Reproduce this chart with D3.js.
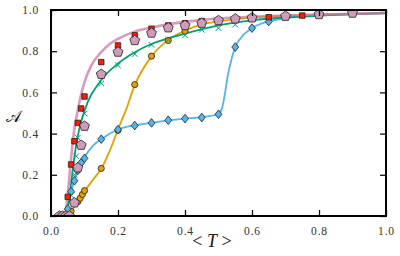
<!DOCTYPE html>
<html>
<head>
<meta charset="utf-8">
<script src="https://cdn.jsdelivr.net/npm/d3@7"></script>
<style>
  body { margin: 0; background: #fff; }
  svg text { font-family: "Liberation Serif", "DejaVu Serif", serif; }
</style>
</head>
<body>
<div id="viz"></div>
<script>
// tick values
let tickVals = [0, 0.2, 0.4, 0.6, 0.8, 1.0];

// red squares
let sqT = [0.05, 0.06, 0.07, 0.08, 0.09, 0.10, 0.15, 0.20, 0.25, 0.30, 0.35, 0.40, 0.45, 0.65, 0.75];
let sqA = [0.093, 0.25, 0.363, 0.452, 0.522, 0.58, 0.747, 0.828, 0.877, 0.909, 0.925, 0.936, 0.946, 0.965, 0.973];

// pink pentagons
let pentT = [0.025, 0.035, 0.045, 0.055, 0.07, 0.08, 0.09, 0.10, 0.15, 0.20, 0.25, 0.30, 0.35, 0.40, 0.45, 0.50, 0.55, 0.60, 0.70, 0.80, 0.90];
let pentA = [0.0, 0.0, 0.0, 0.0, 0.064, 0.234, 0.344, 0.436, 0.688, 0.796, 0.852, 0.888, 0.914, 0.925, 0.936, 0.949, 0.957, 0.962, 0.970, 0.978, 0.985];

// blue diamonds
let diaT = [0.05, 0.06, 0.07, 0.08, 0.09, 0.10, 0.15, 0.20, 0.25, 0.30, 0.35, 0.40, 0.45, 0.50, 0.55, 0.60, 0.65];
let diaA = [0.034, 0.118, 0.171, 0.221, 0.258, 0.28, 0.373, 0.42, 0.439, 0.452, 0.465, 0.473, 0.478, 0.494, 0.82, 0.912, 0.944];

// orange circles
let circT = [0.05, 0.06, 0.08, 0.087, 0.094, 0.10, 0.15, 0.20, 0.25, 0.30, 0.35, 0.40];
let circA = [0.0, 0.023, 0.069, 0.086, 0.105, 0.123, 0.231, 0.416, 0.638, 0.776, 0.852, 0.897];

// teal crosses
let crossT = [0.06, 0.07, 0.075, 0.08, 0.10, 0.15, 0.20, 0.25, 0.30, 0.35, 0.40, 0.45, 0.50, 0.55];
let crossA = [0.10, 0.20, 0.29, 0.38, 0.497, 0.644, 0.731, 0.786, 0.831, 0.856, 0.877, 0.904, 0.912, 0.929];

// curves
let pinkT = [0.043, 0.05, 0.06, 0.067, 0.075, 0.087, 0.10, 0.12, 0.15, 0.175, 0.20, 0.25, 0.30, 0.45, 0.60, 0.80, 1.0];
let pinkA = [0.0, 0.11, 0.28, 0.39, 0.47, 0.57, 0.65, 0.73, 0.795, 0.835, 0.86, 0.895, 0.915, 0.952, 0.967, 0.978, 0.985];

let tealT = [0.045, 0.05, 0.06, 0.07, 0.08, 0.10, 0.15, 0.20, 0.25, 0.30, 0.35, 0.40, 0.50, 0.60, 0.80, 1.0];
let tealA = [0.0, 0.045, 0.16, 0.29, 0.39, 0.51, 0.66, 0.74, 0.795, 0.835, 0.862, 0.885, 0.925, 0.95, 0.972, 0.985];

let orangeT = [0.055, 0.06, 0.07, 0.08, 0.10, 0.125, 0.15, 0.175, 0.20, 0.225, 0.25, 0.30, 0.35, 0.40, 0.45, 0.50, 0.60, 0.80, 1.0];
let orangeA = [0.0, 0.02, 0.045, 0.07, 0.12, 0.175, 0.23, 0.315, 0.42, 0.52, 0.635, 0.775, 0.855, 0.9, 0.93, 0.945, 0.963, 0.978, 0.985];

let blueT = [0.045, 0.05, 0.06, 0.07, 0.08, 0.10, 0.125, 0.15, 0.20, 0.25, 0.30, 0.35, 0.40, 0.45, 0.50, 0.51, 0.53, 0.55, 0.575, 0.60, 0.65, 0.70, 0.80, 1.0];
let blueA = [0.0, 0.035, 0.12, 0.175, 0.22, 0.285, 0.34, 0.373, 0.42, 0.44, 0.452, 0.464, 0.473, 0.48, 0.495, 0.52, 0.70, 0.82, 0.88, 0.912, 0.945, 0.96, 0.975, 0.985];

let margin = {top: 10, right: 14, bottom: 40, left: 51};
let W = 400, H = 256;
let width = W - margin.left - margin.right,
    height = H - margin.top - margin.bottom;

let svg = d3.select('#viz').append('svg')
    .attr('width', W)
    .attr('height', H);

let chart = svg.append('g')
    .attr('transform', 'translate(' + margin.left + ',' + margin.top + ')');

let x = d3.scaleLinear().domain([0, 1]).range([0, width]);
let y = d3.scaleLinear().domain([0, 1]).range([height, 0]);

chart.append('clipPath').attr('id', 'clip')
    .append('rect').attr('width', width).attr('height', height);

let zip = (a, b) => a.map((v, i) => [v, b[i]]);

// simbolos propios
let pentagon = {
    draw: function(ctx, size) {
        let r = Math.sqrt(size / 2.378);
        for (let i = 0; i < 5; i++) {
            let a = -Math.PI / 2 + i * 2 * Math.PI / 5;
            if (i == 0) ctx.moveTo(r * Math.cos(a), r * Math.sin(a));
            else ctx.lineTo(r * Math.cos(a), r * Math.sin(a));
        }
        ctx.closePath();
    }
};
let rhombus = {
    draw: function(ctx, size) {
        let h = Math.sqrt(size / 1.6), w = h * 0.8;
        ctx.moveTo(0, -h);
        ctx.lineTo(w, 0);
        ctx.lineTo(0, h);
        ctx.lineTo(-w, 0);
        ctx.closePath();
    }
};

let plot = chart.append('g').attr('clip-path', 'url(#clip)');

let line = d3.line()
    .x(d => x(d[0]))
    .y(d => y(d[1]))
    .curve(d3.curveMonotoneX);

let curves = [
    {t: blueT, a: blueA, color: '#56b4e9', w: 1.8, op: 1},
    {t: orangeT, a: orangeA, color: '#e69f00', w: 1.8, op: 1},
    {t: tealT, a: tealA, color: '#009e73', w: 1.8, op: 1},
    {t: pinkT, a: pinkA, color: '#cc79a7', w: 2.6, op: 0.75}
];

curves.forEach(c => {
    plot.append('path')
        .datum(zip(c.t, c.a))
        .attr('fill', 'none')
        .attr('stroke', c.color)
        .attr('stroke-width', c.w)
        .attr('stroke-opacity', c.op)
        .attr('d', line);
});

function drawMarkers(t, a, type, size, fill, stroke, sw) {
    plot.append('g').selectAll('path')
        .data(zip(t, a))
        .join('path')
        .attr('transform', d => 'translate(' + x(d[0]) + ',' + y(d[1]) + ')')
        .attr('d', d3.symbol().type(type).size(size))
        .attr('fill', fill)
        .attr('stroke', stroke)
        .attr('stroke-width', sw);
}

drawMarkers(circT, circA, d3.symbolCircle, 30, '#e69f00', '#222', 0.8);
drawMarkers(diaT, diaA, rhombus, 30, '#56b4e9', '#222', 0.8);
drawMarkers(crossT, crossA, d3.symbolTimes, 22, 'none', '#009e73', 1);
drawMarkers(sqT, sqA, d3.symbolSquare, 30, '#ff1a00', '#222', 0.8);
drawMarkers(pentT, pentA, pentagon, 64, '#cf9bbb', '#222', 0.8);

// Ejes
let tickLen = 6;
let xAxis = g => {
    g.call(d3.axisBottom(x).tickValues(tickVals).tickFormat(d3.format('.1f')).tickSize(-tickLen).tickPadding(11));
    g.select('.domain').remove();
};
let yAxis = g => {
    g.call(d3.axisLeft(y).tickValues(tickVals).tickFormat(d3.format('.1f')).tickSize(-tickLen).tickPadding(12));
    g.select('.domain').remove();
};

chart.append('g').attr('transform', 'translate(0,' + height + ')').call(xAxis);
chart.append('g').call(yAxis);
chart.append('g').call(g => {
    g.call(d3.axisTop(x).tickValues(tickVals).tickFormat('').tickSize(-tickLen));
    g.select('.domain').remove();
});
chart.append('g').attr('transform', 'translate(' + width + ',0)').call(g => {
    g.call(d3.axisRight(y).tickValues(tickVals).tickFormat('').tickSize(-tickLen));
    g.select('.domain').remove();
});

chart.selectAll('.tick line').attr('stroke', '#111').attr('stroke-width', 1.3);
chart.selectAll('.tick text')
    .attr('font-family', '"Liberation Serif", "DejaVu Serif", serif')
    .attr('font-size', 11.5)
    .attr('letter-spacing', 0.8)
    .attr('fill', '#333');

chart.append('rect')
    .attr('width', width)
    .attr('height', height)
    .attr('fill', 'none')
    .attr('stroke', '#000')
    .attr('stroke-width', 2);

// Etiquetas
let xl = svg.append('text')
    .attr('x', 212)
    .attr('y', 247)
    .attr('text-anchor', 'middle')
    .attr('font-size', 18)
    .attr('fill', '#111');
xl.append('tspan').text('< ');
xl.append('tspan').attr('font-style', 'italic').text('T');
xl.append('tspan').text(' >');

svg.append('text')
    .attr('x', 13)
    .attr('y', 122)
    .attr('text-anchor', 'middle')
    .attr('font-size', 16)
    .attr('font-family', '"DejaVu Serif", "DejaVu Sans", serif')
    .attr('fill', '#111')
    .text('𝒜');
</script>
</body>
</html>
